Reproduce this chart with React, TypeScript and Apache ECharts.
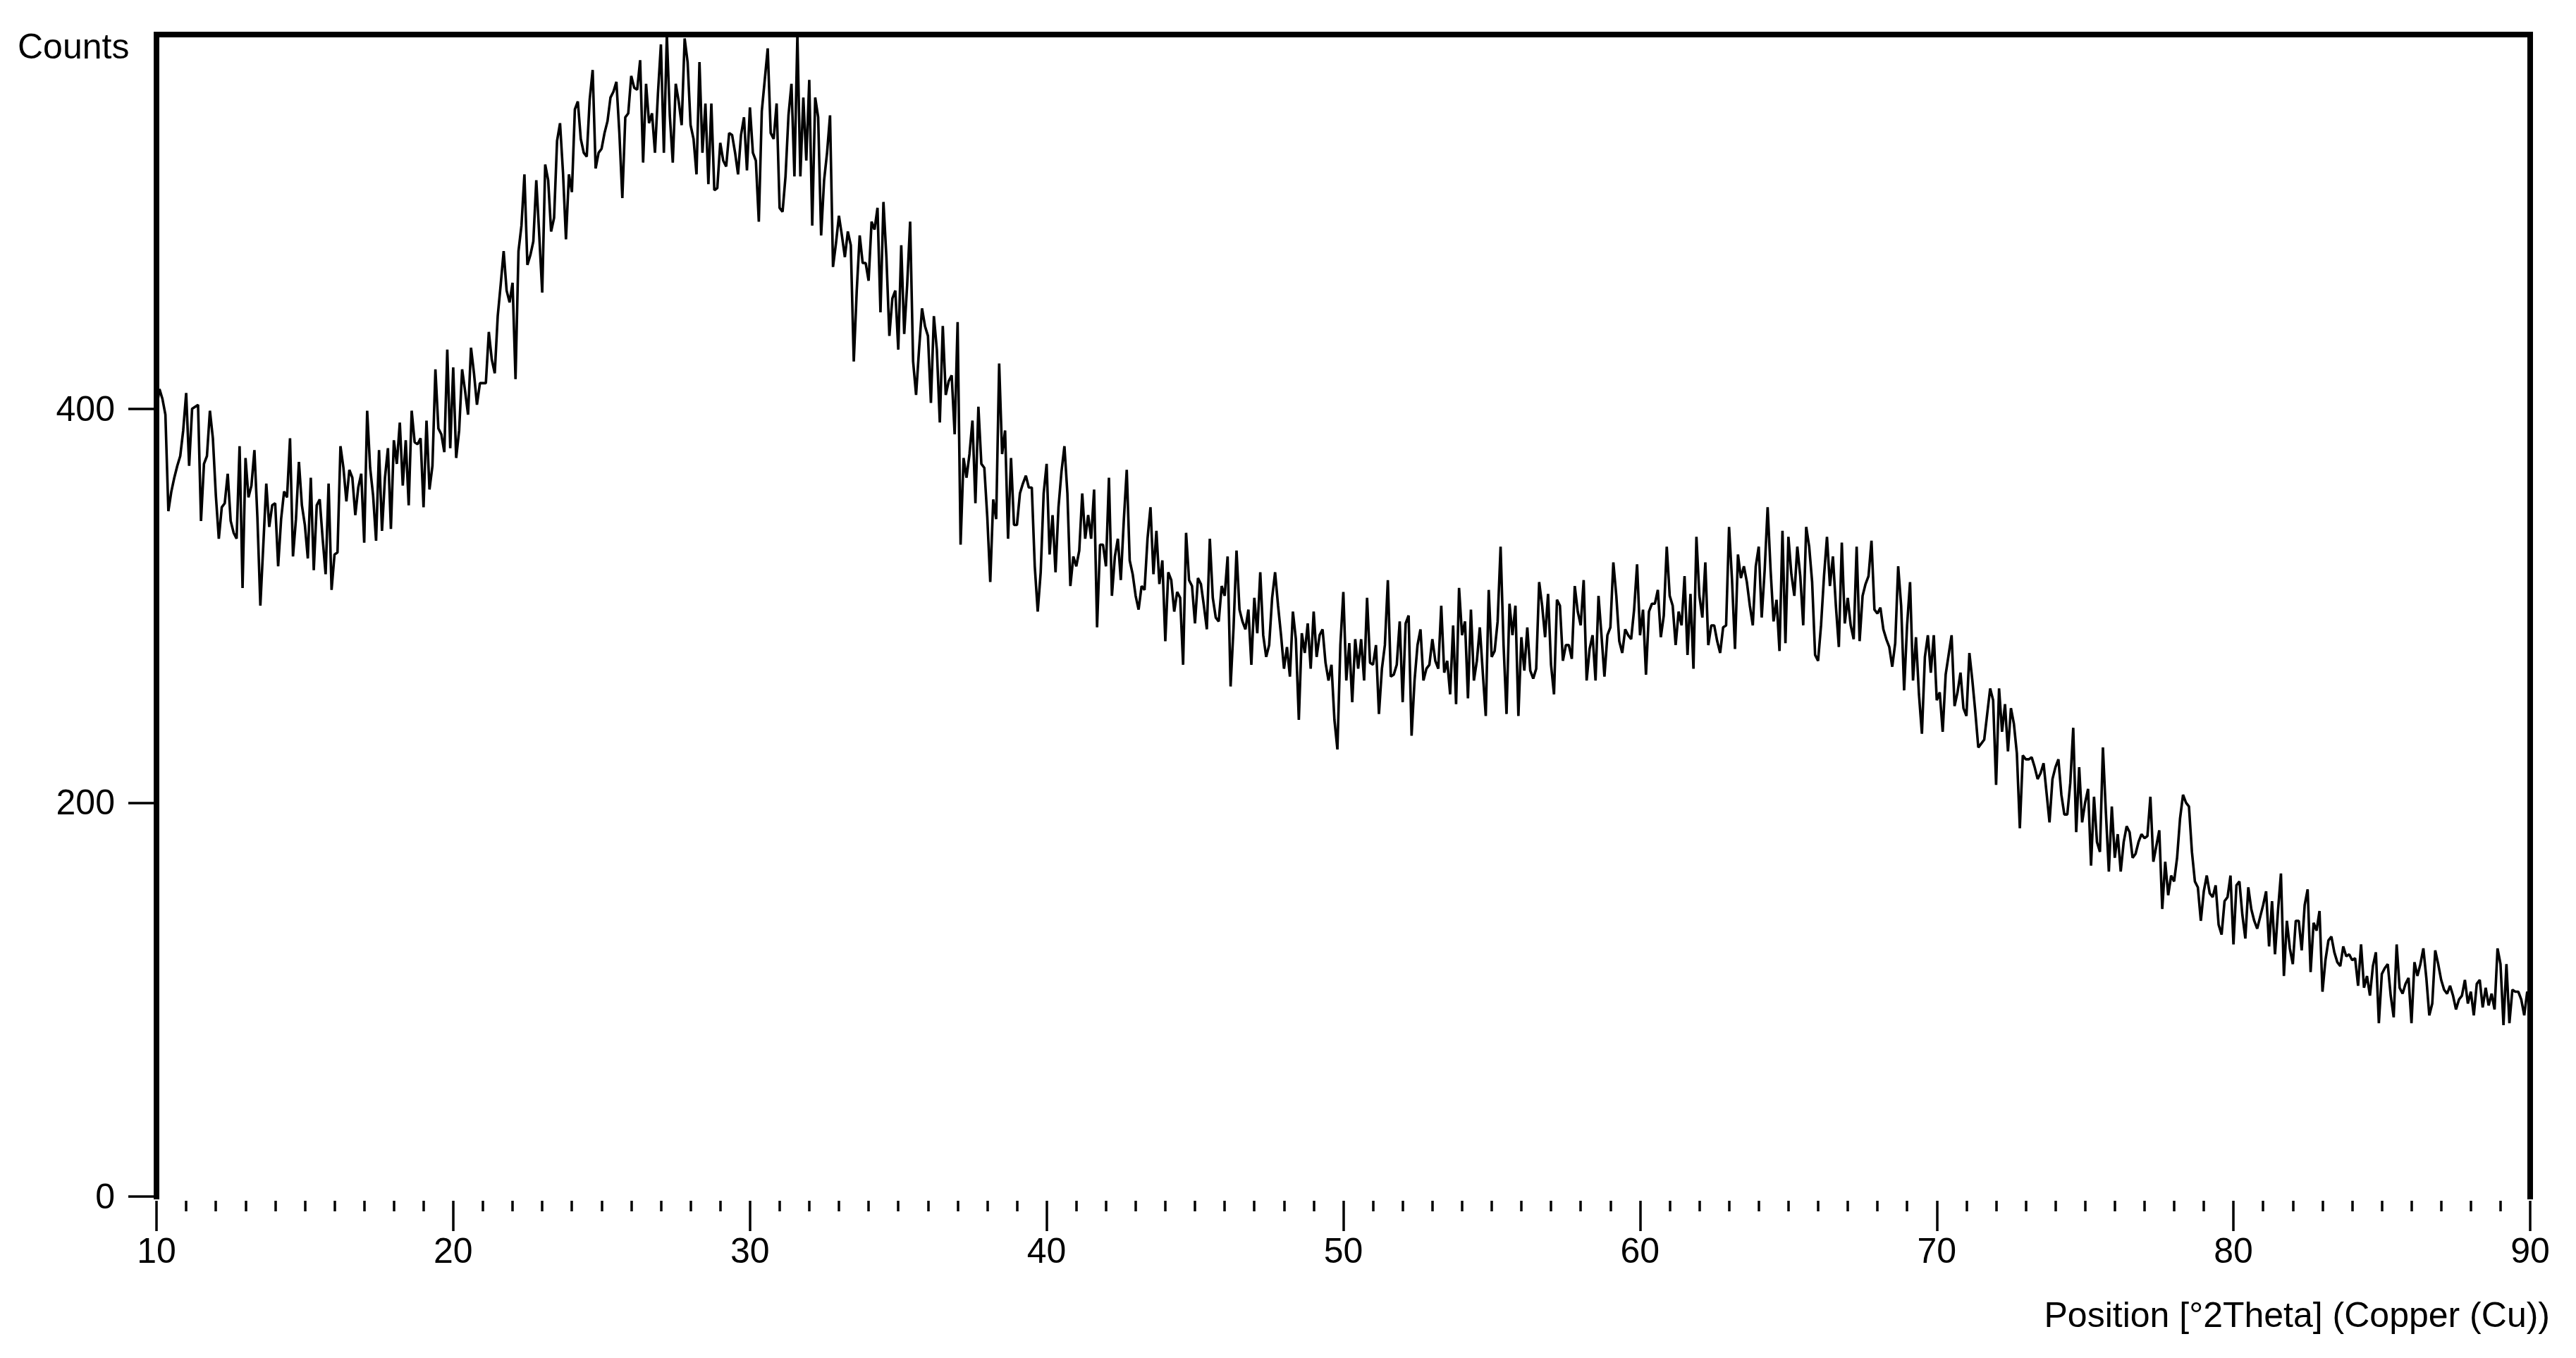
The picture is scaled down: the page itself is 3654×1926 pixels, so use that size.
import React, { useEffect, useRef } from "react";
import * as echarts from "echarts";

// Sampling grid of the scan (degrees 2Theta)
const START_2THETA = 10;
const STEP_2THETA = 0.1;

// Counts, 0.1° steps
const counts10to20 = [
  400, 410, 405, 397, 348, 358, 365, 371, 376, 389,
  408, 371, 400, 401, 402, 343, 372, 376, 399, 385,
  356, 334, 350, 352, 367, 343, 337, 334, 381, 309,
  375, 355, 361, 379, 345, 300, 331, 362, 340, 351,
  352, 320, 344, 358, 355, 385, 325, 344, 373, 351,
  341, 324, 365, 318, 351, 354, 334, 316, 362, 308,
  326, 327, 381, 370, 353, 369, 365, 346, 360, 367,
  332, 399, 370, 356, 333, 379, 338, 365, 380, 339,
  384, 372, 393, 361, 384, 351, 399, 383, 382, 385,
  350, 394, 359, 371, 420, 390, 387, 378, 430, 380,
];
const counts20to30 = [
  421, 375, 389, 420, 409, 397, 431, 418, 402, 413,
  413, 413, 439, 425, 418, 447, 463, 480, 460, 454,
  464, 415, 480, 493, 519, 473, 478, 485, 516, 488,
  459, 524, 516, 490, 497, 536, 545, 520, 486, 519,
  510, 552, 556, 537, 530, 528, 557, 572, 522, 530,
  532, 540, 546, 558, 561, 566, 540, 507, 548, 550,
  569, 563, 562, 577, 525, 565, 545, 550, 530, 560,
  585, 530, 590, 549, 525, 565, 556, 544, 588, 576,
  544, 537, 519, 576, 530, 555, 514, 555, 511, 512,
  535, 526, 523, 540, 539, 530, 519, 539, 548, 521,
];
const counts30to40 = [
  553, 530, 526, 495, 551, 567, 583, 540, 537, 555,
  502, 500, 518, 549, 565, 518, 590, 518, 558, 526,
  567, 493, 558, 548, 488, 516, 530, 549, 472, 484,
  498, 488, 477, 490, 483, 424, 460, 488, 474, 474,
  465, 495, 491, 502, 449, 505, 477, 437, 456, 460,
  430, 483, 438, 463, 495, 424, 407, 430, 451, 442,
  437, 403, 447, 430, 393, 442, 407, 414, 417, 387,
  444, 331, 375, 365, 377, 394, 352, 401, 372, 370,
  345, 312, 354, 344, 423, 377, 389, 334, 375, 341,
  341, 357, 362, 366, 360, 360, 320, 297, 317, 357,
];
const counts40to50 = [
  372, 326, 346, 317, 350, 368, 381, 357, 310, 325,
  320, 328, 357, 334, 346, 334, 359, 289, 331, 331,
  320, 365, 305, 325, 334, 313, 343, 369, 323, 316,
  305, 298, 310, 308, 334, 350, 316, 338, 311, 323,
  282, 317, 313, 297, 307, 304, 270, 337, 313, 310,
  291, 314, 311, 300, 288, 334, 304, 294, 292, 310,
  305, 325, 259, 289, 328, 298, 292, 288, 298, 270,
  304, 286, 317, 285, 274, 280, 304, 317, 300, 285,
  268, 279, 264, 297, 283, 242, 286, 276, 291, 268,
  297, 274, 285, 288, 271, 262, 270, 242, 227, 280,
];
const counts50to60 = [
  307, 262, 281, 251, 283, 268, 283, 262, 304, 271,
  270, 280, 245, 268, 280, 313, 264, 265, 270, 292,
  251, 291, 295, 234, 262, 280, 288, 262, 268, 270,
  283, 272, 268, 300, 266, 272, 255, 290, 250, 309,
  285, 292, 253, 298, 262, 272, 289, 266, 244, 308,
  274, 277, 292, 330, 280, 245, 301, 285, 300, 244,
  284, 267, 289, 267, 263, 268, 312, 300, 284, 306,
  270, 255, 303, 300, 272, 280, 280, 273, 310, 297,
  290, 313, 262, 278, 285, 262, 305, 285, 264, 285,
  289, 322, 305, 282, 276, 288, 285, 283, 298, 321,
];
const counts60to70 = [
  285, 298, 265, 297, 301, 301, 308, 284, 295, 330,
  305, 300, 280, 297, 290, 315, 275, 306, 268, 335,
  305, 294, 322, 280, 290, 290, 282, 276, 289, 290,
  340, 313, 278, 326, 314, 320, 312, 300, 290, 320,
  330, 294, 318, 350, 318, 292, 303, 277, 338, 281,
  335, 316, 305, 330, 315, 290, 340, 330, 312, 275,
  272, 290, 315, 335, 310, 325, 300, 279, 332, 291,
  304, 290, 283, 330, 282, 305, 311, 315, 333, 298,
  296, 299, 288, 283, 279, 269, 281, 320, 300, 257,
  290, 312, 262, 284, 255, 235, 274, 285, 266, 285,
];
const counts70to80 = [
  252, 256, 236, 265, 275, 285, 249, 256, 266, 248,
  244, 276, 262, 246, 228, 230, 232, 245, 258, 252,
  209, 258, 236, 250, 226, 248, 240, 225, 187, 224,
  222, 222, 223, 218, 212, 215, 220, 205, 190, 212,
  218, 222, 204, 194, 194, 210, 238, 185, 218, 190,
  200, 207, 168, 203, 180, 175, 228, 195, 165, 198,
  172, 184, 165, 180, 188, 185, 172, 174, 180, 184,
  182, 183, 203, 170, 178, 186, 146, 170, 153, 163,
  160, 172, 192, 204, 200, 198, 175, 160, 157, 140,
  155, 163, 154, 152, 158, 138, 133, 150, 152, 163,
];
const counts80to90 = [
  128, 158, 160, 143, 131, 157, 146, 140, 136, 142,
  148, 155, 127, 150, 123, 145, 164, 112, 140, 126,
  118, 140, 140, 125, 148, 156, 114, 139, 135, 145,
  104, 120, 130, 132, 124, 119, 117, 127, 122, 123,
  120, 121, 107, 128, 106, 112, 102, 117, 124, 88,
  113, 116, 118, 102, 91, 128, 106, 103, 108, 111,
  88, 119, 112, 118, 126, 111, 92, 98, 125, 118,
  110, 105, 103, 107, 102, 95, 100, 102, 110, 98,
  104, 92, 108, 110, 96, 106, 97, 103, 95, 126,
  118, 87, 118, 88, 105, 104, 104, 100, 92, 104,
  100,
];

const xMin = 10;
const xMax = 90;
const xStep = 10;
const yMin = 0;
const yMax = 590;
const yTickValues = [0, 200, 400];

const yTitle = "Counts";
const xTitle = "Position [°2Theta] (Copper (Cu))";

const FONT = "'Liberation Sans', Arial, sans-serif";

export default function App() {
  const ref = useRef<HTMLDivElement>(null);

  useEffect(() => {
    if (!ref.current) return;
    const chart = echarts.init(ref.current, null, { renderer: "svg" });
    const all = [
      ...counts10to20,
      ...counts20to30,
      ...counts30to40,
      ...counts40to50,
      ...counts50to60,
      ...counts60to70,
      ...counts70to80,
      ...counts80to90,
    ];
    const data = all.map((c, i) => [
      Math.round((START_2THETA + i * STEP_2THETA) * 10) / 10,
      c,
    ]);

    chart.setOption({
      animation: false,
      backgroundColor: "#ffffff",
      grid: { left: 222, right: 65, top: 49, bottom: 229, containLabel: false },
      xAxis: [
        {
          type: "value",
          min: xMin,
          max: xMax,
          interval: xStep,
          position: "bottom",
          offset: 6,
          axisLine: { show: false, onZero: false },
          axisTick: {
            show: true,
            inside: false,
            length: 43,
            lineStyle: { color: "#000", width: 3.5 },
          },
          minorTick: {
            show: true,
            splitNumber: 10,
            length: 15,
            lineStyle: { color: "#000", width: 3.5 },
          },
          splitLine: { show: false },
          minorSplitLine: { show: false },
          axisLabel: {
            color: "#000",
            fontSize: 50,
            fontFamily: FONT,
            margin: 46,
          },
        },
        {
          type: "value",
          min: xMin,
          max: xMax,
          position: "top",
          axisLine: {
            show: true,
            onZero: false,
            lineStyle: { color: "#000", width: 8, cap: "square" },
          },
          axisTick: { show: false },
          axisLabel: { show: false },
          splitLine: { show: false },
        },
      ],
      yAxis: [
        {
          type: "value",
          min: yMin,
          max: yMax,
          position: "left",
          axisLine: {
            show: true,
            onZero: false,
            lineStyle: { color: "#000", width: 8, cap: "square" },
          },
          axisTick: {
            show: true,
            inside: false,
            length: 40,
            customValues: yTickValues,
            lineStyle: { color: "#000", width: 3.5 },
          },
          axisLabel: {
            color: "#000",
            fontSize: 50,
            fontFamily: FONT,
            margin: 59,
            customValues: yTickValues,
          },
          splitLine: { show: false },
        },
        {
          type: "value",
          min: yMin,
          max: yMax,
          position: "right",
          axisLine: {
            show: true,
            onZero: false,
            lineStyle: { color: "#000", width: 8, cap: "square" },
          },
          axisTick: { show: false },
          axisLabel: { show: false },
          splitLine: { show: false },
        },
      ],
      series: [
        {
          type: "line",
          xAxisIndex: 0,
          yAxisIndex: 0,
          data,
          showSymbol: false,
          symbol: "none",
          clip: true,
          lineStyle: { color: "#000", width: 3.6 },
        },
      ],
      graphic: [
        {
          type: "text",
          x: 25,
          y: 66,
          style: {
            text: yTitle,
            fontSize: 50,
            fontFamily: FONT,
            fill: "#000",
            align: "left",
            verticalAlign: "middle",
          },
        },
        {
          type: "text",
          x: 3617,
          y: 1865,
          style: {
            text: xTitle,
            fontSize: 50,
            fontFamily: FONT,
            fill: "#000",
            align: "right",
            verticalAlign: "middle",
          },
        },
      ],
    });

    return () => chart.dispose();
  }, []);

  return (
    <div
      ref={ref}
      style={{
        position: "absolute",
        left: 0,
        top: 0,
        width: 3654,
        height: 1926,
        background: "#fff",
      }}
    />
  );
}
